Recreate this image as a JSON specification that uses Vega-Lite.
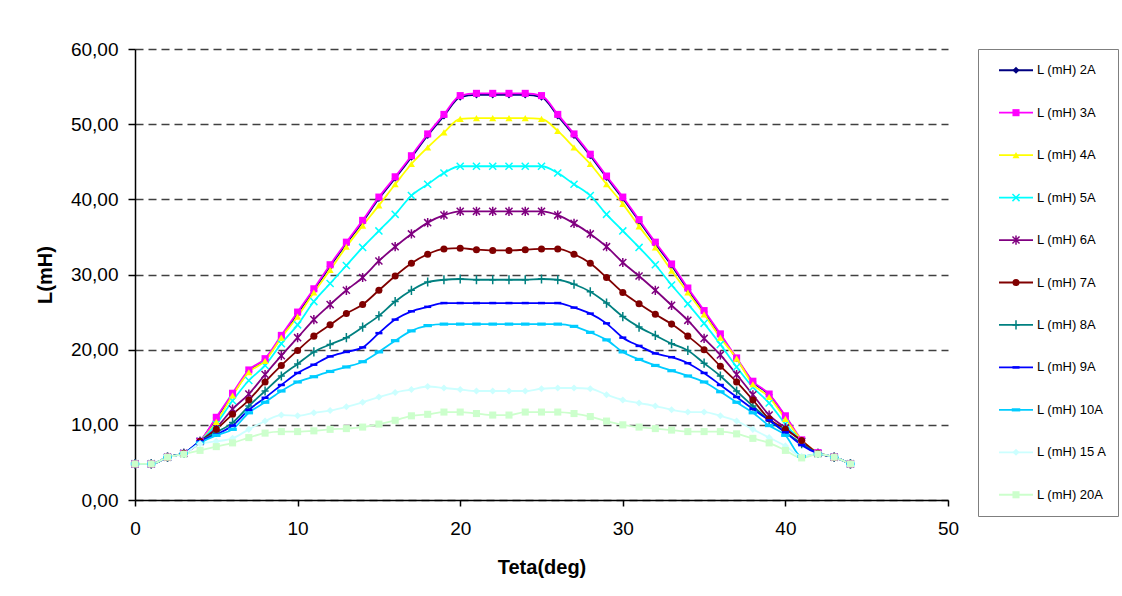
{
  "$schema": "https://vega.github.io/schema/vega-lite/v6.json",
  "background": "white",
  "padding": {"left": 35, "top": 40, "right": 4, "bottom": 4},
  "autosize": {"type": "pad"},
  "bounds": "flush",
  "spacing": 30,
  "config": {"font": "Liberation Sans"},
  "hconcat": [
    {
      "width": 813,
      "height": 451,
      "view": {"stroke": null},
      "data": {"values": [
{"series":"2A","teta":0,"L":4.8},{"series":"2A","teta":1,"L":4.8},{"series":"2A","teta":2,"L":5.7},{"series":"2A","teta":3,"L":6.2},{"series":"2A","teta":4,"L":7.8},{"series":"2A","teta":5,"L":10.9},{"series":"2A","teta":6,"L":14.0},{"series":"2A","teta":7,"L":17.1},{"series":"2A","teta":8,"L":18.7},{"series":"2A","teta":9,"L":21.7},{"series":"2A","teta":10,"L":24.8},{"series":"2A","teta":11,"L":27.9},{"series":"2A","teta":12,"L":31.1},{"series":"2A","teta":13,"L":34.1},{"series":"2A","teta":14,"L":37.0},{"series":"2A","teta":15,"L":40.1},{"series":"2A","teta":16,"L":42.8},{"series":"2A","teta":17,"L":45.6},{"series":"2A","teta":18,"L":48.5},{"series":"2A","teta":19,"L":51.1},{"series":"2A","teta":20,"L":53.6},{"series":"2A","teta":21,"L":53.9},{"series":"2A","teta":22,"L":53.9},{"series":"2A","teta":23,"L":53.9},{"series":"2A","teta":24,"L":53.9},{"series":"2A","teta":25,"L":53.6},{"series":"2A","teta":26,"L":51.1},{"series":"2A","teta":27,"L":48.5},{"series":"2A","teta":28,"L":45.8},{"series":"2A","teta":29,"L":42.9},{"series":"2A","teta":30,"L":40.1},{"series":"2A","teta":31,"L":37.1},{"series":"2A","teta":32,"L":34.1},{"series":"2A","teta":33,"L":31.2},{"series":"2A","teta":34,"L":28.0},{"series":"2A","teta":35,"L":25.0},{"series":"2A","teta":36,"L":21.9},{"series":"2A","teta":37,"L":18.8},{"series":"2A","teta":38,"L":15.7},{"series":"2A","teta":39,"L":14.0},{"series":"2A","teta":40,"L":11.1},{"series":"2A","teta":41,"L":7.9},{"series":"2A","teta":42,"L":6.3},{"series":"2A","teta":43,"L":5.7},{"series":"2A","teta":44,"L":4.8},
{"series":"3A","teta":0,"L":4.8},{"series":"3A","teta":1,"L":4.8},{"series":"3A","teta":2,"L":5.7},{"series":"3A","teta":3,"L":6.2},{"series":"3A","teta":4,"L":7.8},{"series":"3A","teta":5,"L":11.0},{"series":"3A","teta":6,"L":14.2},{"series":"3A","teta":7,"L":17.3},{"series":"3A","teta":8,"L":18.8},{"series":"3A","teta":9,"L":21.9},{"series":"3A","teta":10,"L":25.0},{"series":"3A","teta":11,"L":28.1},{"series":"3A","teta":12,"L":31.3},{"series":"3A","teta":13,"L":34.3},{"series":"3A","teta":14,"L":37.2},{"series":"3A","teta":15,"L":40.3},{"series":"3A","teta":16,"L":43.0},{"series":"3A","teta":17,"L":45.8},{"series":"3A","teta":18,"L":48.7},{"series":"3A","teta":19,"L":51.3},{"series":"3A","teta":20,"L":53.8},{"series":"3A","teta":21,"L":54.1},{"series":"3A","teta":22,"L":54.1},{"series":"3A","teta":23,"L":54.1},{"series":"3A","teta":24,"L":54.1},{"series":"3A","teta":25,"L":53.8},{"series":"3A","teta":26,"L":51.3},{"series":"3A","teta":27,"L":48.7},{"series":"3A","teta":28,"L":46.0},{"series":"3A","teta":29,"L":43.1},{"series":"3A","teta":30,"L":40.3},{"series":"3A","teta":31,"L":37.3},{"series":"3A","teta":32,"L":34.3},{"series":"3A","teta":33,"L":31.4},{"series":"3A","teta":34,"L":28.2},{"series":"3A","teta":35,"L":25.2},{"series":"3A","teta":36,"L":22.1},{"series":"3A","teta":37,"L":18.9},{"series":"3A","teta":38,"L":15.8},{"series":"3A","teta":39,"L":14.1},{"series":"3A","teta":40,"L":11.2},{"series":"3A","teta":41,"L":8.0},{"series":"3A","teta":42,"L":6.3},{"series":"3A","teta":43,"L":5.7},{"series":"3A","teta":44,"L":4.8},
{"series":"4A","teta":0,"L":4.8},{"series":"4A","teta":1,"L":4.8},{"series":"4A","teta":2,"L":5.7},{"series":"4A","teta":3,"L":6.2},{"series":"4A","teta":4,"L":7.8},{"series":"4A","teta":5,"L":10.4},{"series":"4A","teta":6,"L":13.9},{"series":"4A","teta":7,"L":17.0},{"series":"4A","teta":8,"L":18.5},{"series":"4A","teta":9,"L":21.6},{"series":"4A","teta":10,"L":24.4},{"series":"4A","teta":11,"L":27.6},{"series":"4A","teta":12,"L":30.6},{"series":"4A","teta":13,"L":33.7},{"series":"4A","teta":14,"L":36.5},{"series":"4A","teta":15,"L":39.2},{"series":"4A","teta":16,"L":42.0},{"series":"4A","teta":17,"L":44.7},{"series":"4A","teta":18,"L":46.9},{"series":"4A","teta":19,"L":48.9},{"series":"4A","teta":20,"L":50.7},{"series":"4A","teta":21,"L":50.8},{"series":"4A","teta":22,"L":50.8},{"series":"4A","teta":23,"L":50.8},{"series":"4A","teta":24,"L":50.8},{"series":"4A","teta":25,"L":50.7},{"series":"4A","teta":26,"L":49.1},{"series":"4A","teta":27,"L":46.9},{"series":"4A","teta":28,"L":44.7},{"series":"4A","teta":29,"L":42.0},{"series":"4A","teta":30,"L":39.4},{"series":"4A","teta":31,"L":36.4},{"series":"4A","teta":32,"L":33.6},{"series":"4A","teta":33,"L":30.5},{"series":"4A","teta":34,"L":27.6},{"series":"4A","teta":35,"L":24.7},{"series":"4A","teta":36,"L":21.6},{"series":"4A","teta":37,"L":18.8},{"series":"4A","teta":38,"L":15.4},{"series":"4A","teta":39,"L":13.7},{"series":"4A","teta":40,"L":10.8},{"series":"4A","teta":41,"L":8.0},{"series":"4A","teta":42,"L":6.3},{"series":"4A","teta":43,"L":5.7},{"series":"4A","teta":44,"L":4.8},
{"series":"5A","teta":0,"L":4.8},{"series":"5A","teta":1,"L":4.8},{"series":"5A","teta":2,"L":5.7},{"series":"5A","teta":3,"L":6.2},{"series":"5A","teta":4,"L":7.8},{"series":"5A","teta":5,"L":10.1},{"series":"5A","teta":6,"L":13.2},{"series":"5A","teta":7,"L":15.9},{"series":"5A","teta":8,"L":17.9},{"series":"5A","teta":9,"L":20.8},{"series":"5A","teta":10,"L":23.3},{"series":"5A","teta":11,"L":26.4},{"series":"5A","teta":12,"L":28.8},{"series":"5A","teta":13,"L":31.2},{"series":"5A","teta":14,"L":33.6},{"series":"5A","teta":15,"L":35.8},{"series":"5A","teta":16,"L":38.0},{"series":"5A","teta":17,"L":40.5},{"series":"5A","teta":18,"L":42.0},{"series":"5A","teta":19,"L":43.5},{"series":"5A","teta":20,"L":44.4},{"series":"5A","teta":21,"L":44.4},{"series":"5A","teta":22,"L":44.4},{"series":"5A","teta":23,"L":44.4},{"series":"5A","teta":24,"L":44.4},{"series":"5A","teta":25,"L":44.4},{"series":"5A","teta":26,"L":43.5},{"series":"5A","teta":27,"L":42.0},{"series":"5A","teta":28,"L":40.5},{"series":"5A","teta":29,"L":38.0},{"series":"5A","teta":30,"L":35.8},{"series":"5A","teta":31,"L":33.6},{"series":"5A","teta":32,"L":31.3},{"series":"5A","teta":33,"L":28.6},{"series":"5A","teta":34,"L":26.1},{"series":"5A","teta":35,"L":23.5},{"series":"5A","teta":36,"L":20.7},{"series":"5A","teta":37,"L":17.7},{"series":"5A","teta":38,"L":15.0},{"series":"5A","teta":39,"L":12.9},{"series":"5A","teta":40,"L":10.1},{"series":"5A","teta":41,"L":7.8},{"series":"5A","teta":42,"L":6.2},{"series":"5A","teta":43,"L":5.7},{"series":"5A","teta":44,"L":4.8},
{"series":"6A","teta":0,"L":4.8},{"series":"6A","teta":1,"L":4.8},{"series":"6A","teta":2,"L":5.7},{"series":"6A","teta":3,"L":6.2},{"series":"6A","teta":4,"L":7.8},{"series":"6A","teta":5,"L":9.6},{"series":"6A","teta":6,"L":12.1},{"series":"6A","teta":7,"L":14.1},{"series":"6A","teta":8,"L":16.7},{"series":"6A","teta":9,"L":19.2},{"series":"6A","teta":10,"L":21.6},{"series":"6A","teta":11,"L":24.0},{"series":"6A","teta":12,"L":26.0},{"series":"6A","teta":13,"L":27.9},{"series":"6A","teta":14,"L":29.6},{"series":"6A","teta":15,"L":31.8},{"series":"6A","teta":16,"L":33.7},{"series":"6A","teta":17,"L":35.4},{"series":"6A","teta":18,"L":36.9},{"series":"6A","teta":19,"L":37.9},{"series":"6A","teta":20,"L":38.4},{"series":"6A","teta":21,"L":38.4},{"series":"6A","teta":22,"L":38.4},{"series":"6A","teta":23,"L":38.4},{"series":"6A","teta":24,"L":38.4},{"series":"6A","teta":25,"L":38.4},{"series":"6A","teta":26,"L":37.9},{"series":"6A","teta":27,"L":36.8},{"series":"6A","teta":28,"L":35.4},{"series":"6A","teta":29,"L":33.7},{"series":"6A","teta":30,"L":31.6},{"series":"6A","teta":31,"L":29.8},{"series":"6A","teta":32,"L":27.9},{"series":"6A","teta":33,"L":25.9},{"series":"6A","teta":34,"L":23.9},{"series":"6A","teta":35,"L":21.5},{"series":"6A","teta":36,"L":19.3},{"series":"6A","teta":37,"L":16.7},{"series":"6A","teta":38,"L":14.0},{"series":"6A","teta":39,"L":11.3},{"series":"6A","teta":40,"L":9.6},{"series":"6A","teta":41,"L":7.8},{"series":"6A","teta":42,"L":6.2},{"series":"6A","teta":43,"L":5.7},{"series":"6A","teta":44,"L":4.8},
{"series":"7A","teta":0,"L":4.8},{"series":"7A","teta":1,"L":4.8},{"series":"7A","teta":2,"L":5.7},{"series":"7A","teta":3,"L":6.2},{"series":"7A","teta":4,"L":7.8},{"series":"7A","teta":5,"L":9.4},{"series":"7A","teta":6,"L":11.4},{"series":"7A","teta":7,"L":13.3},{"series":"7A","teta":8,"L":15.7},{"series":"7A","teta":9,"L":17.9},{"series":"7A","teta":10,"L":19.9},{"series":"7A","teta":11,"L":21.8},{"series":"7A","teta":12,"L":23.3},{"series":"7A","teta":13,"L":24.8},{"series":"7A","teta":14,"L":26.0},{"series":"7A","teta":15,"L":27.9},{"series":"7A","teta":16,"L":29.8},{"series":"7A","teta":17,"L":31.5},{"series":"7A","teta":18,"L":32.7},{"series":"7A","teta":19,"L":33.4},{"series":"7A","teta":20,"L":33.5},{"series":"7A","teta":21,"L":33.3},{"series":"7A","teta":22,"L":33.2},{"series":"7A","teta":23,"L":33.2},{"series":"7A","teta":24,"L":33.3},{"series":"7A","teta":25,"L":33.4},{"series":"7A","teta":26,"L":33.4},{"series":"7A","teta":27,"L":32.7},{"series":"7A","teta":28,"L":31.5},{"series":"7A","teta":29,"L":29.6},{"series":"7A","teta":30,"L":27.6},{"series":"7A","teta":31,"L":26.1},{"series":"7A","teta":32,"L":24.7},{"series":"7A","teta":33,"L":23.4},{"series":"7A","teta":34,"L":21.8},{"series":"7A","teta":35,"L":20.0},{"series":"7A","teta":36,"L":17.8},{"series":"7A","teta":37,"L":15.7},{"series":"7A","teta":38,"L":13.3},{"series":"7A","teta":39,"L":10.8},{"series":"7A","teta":40,"L":9.4},{"series":"7A","teta":41,"L":7.9},{"series":"7A","teta":42,"L":6.2},{"series":"7A","teta":43,"L":5.7},{"series":"7A","teta":44,"L":4.8},
{"series":"8A","teta":0,"L":4.8},{"series":"8A","teta":1,"L":4.8},{"series":"8A","teta":2,"L":5.7},{"series":"8A","teta":3,"L":6.2},{"series":"8A","teta":4,"L":7.8},{"series":"8A","teta":5,"L":9.0},{"series":"8A","teta":6,"L":10.3},{"series":"8A","teta":7,"L":12.5},{"series":"8A","teta":8,"L":14.5},{"series":"8A","teta":9,"L":16.5},{"series":"8A","teta":10,"L":18.1},{"series":"8A","teta":11,"L":19.7},{"series":"8A","teta":12,"L":20.7},{"series":"8A","teta":13,"L":21.6},{"series":"8A","teta":14,"L":23.0},{"series":"8A","teta":15,"L":24.5},{"series":"8A","teta":16,"L":26.4},{"series":"8A","teta":17,"L":27.9},{"series":"8A","teta":18,"L":29.0},{"series":"8A","teta":19,"L":29.3},{"series":"8A","teta":20,"L":29.4},{"series":"8A","teta":21,"L":29.3},{"series":"8A","teta":22,"L":29.3},{"series":"8A","teta":23,"L":29.3},{"series":"8A","teta":24,"L":29.3},{"series":"8A","teta":25,"L":29.4},{"series":"8A","teta":26,"L":29.3},{"series":"8A","teta":27,"L":28.7},{"series":"8A","teta":28,"L":27.7},{"series":"8A","teta":29,"L":26.2},{"series":"8A","teta":30,"L":24.4},{"series":"8A","teta":31,"L":23.0},{"series":"8A","teta":32,"L":21.9},{"series":"8A","teta":33,"L":20.8},{"series":"8A","teta":34,"L":19.9},{"series":"8A","teta":35,"L":18.2},{"series":"8A","teta":36,"L":16.5},{"series":"8A","teta":37,"L":14.5},{"series":"8A","teta":38,"L":12.5},{"series":"8A","teta":39,"L":10.6},{"series":"8A","teta":40,"L":9.0},{"series":"8A","teta":41,"L":7.5},{"series":"8A","teta":42,"L":6.2},{"series":"8A","teta":43,"L":5.7},{"series":"8A","teta":44,"L":4.8},
{"series":"9A","teta":0,"L":4.8},{"series":"9A","teta":1,"L":4.8},{"series":"9A","teta":2,"L":5.7},{"series":"9A","teta":3,"L":6.2},{"series":"9A","teta":4,"L":7.8},{"series":"9A","teta":5,"L":8.7},{"series":"9A","teta":6,"L":9.9},{"series":"9A","teta":7,"L":12.0},{"series":"9A","teta":8,"L":13.6},{"series":"9A","teta":9,"L":15.3},{"series":"9A","teta":10,"L":16.9},{"series":"9A","teta":11,"L":18.0},{"series":"9A","teta":12,"L":19.1},{"series":"9A","teta":13,"L":19.7},{"series":"9A","teta":14,"L":20.3},{"series":"9A","teta":15,"L":22.2},{"series":"9A","teta":16,"L":24.0},{"series":"9A","teta":17,"L":25.1},{"series":"9A","teta":18,"L":25.7},{"series":"9A","teta":19,"L":26.2},{"series":"9A","teta":20,"L":26.2},{"series":"9A","teta":21,"L":26.2},{"series":"9A","teta":22,"L":26.2},{"series":"9A","teta":23,"L":26.2},{"series":"9A","teta":24,"L":26.2},{"series":"9A","teta":25,"L":26.2},{"series":"9A","teta":26,"L":26.2},{"series":"9A","teta":27,"L":25.6},{"series":"9A","teta":28,"L":24.8},{"series":"9A","teta":29,"L":23.5},{"series":"9A","teta":30,"L":21.6},{"series":"9A","teta":31,"L":20.5},{"series":"9A","teta":32,"L":19.5},{"series":"9A","teta":33,"L":19.0},{"series":"9A","teta":34,"L":18.2},{"series":"9A","teta":35,"L":16.9},{"series":"9A","teta":36,"L":15.3},{"series":"9A","teta":37,"L":13.7},{"series":"9A","teta":38,"L":12.1},{"series":"9A","teta":39,"L":10.6},{"series":"9A","teta":40,"L":9.0},{"series":"9A","teta":41,"L":7.3},{"series":"9A","teta":42,"L":6.2},{"series":"9A","teta":43,"L":5.7},{"series":"9A","teta":44,"L":4.8},
{"series":"10A","teta":0,"L":4.8},{"series":"10A","teta":1,"L":4.8},{"series":"10A","teta":2,"L":5.7},{"series":"10A","teta":3,"L":6.2},{"series":"10A","teta":4,"L":7.6},{"series":"10A","teta":5,"L":8.6},{"series":"10A","teta":6,"L":9.4},{"series":"10A","teta":7,"L":11.6},{"series":"10A","teta":8,"L":13.0},{"series":"10A","teta":9,"L":14.5},{"series":"10A","teta":10,"L":15.7},{"series":"10A","teta":11,"L":16.4},{"series":"10A","teta":12,"L":17.1},{"series":"10A","teta":13,"L":17.7},{"series":"10A","teta":14,"L":18.4},{"series":"10A","teta":15,"L":19.7},{"series":"10A","teta":16,"L":21.2},{"series":"10A","teta":17,"L":22.5},{"series":"10A","teta":18,"L":23.2},{"series":"10A","teta":19,"L":23.4},{"series":"10A","teta":20,"L":23.4},{"series":"10A","teta":21,"L":23.4},{"series":"10A","teta":22,"L":23.4},{"series":"10A","teta":23,"L":23.4},{"series":"10A","teta":24,"L":23.4},{"series":"10A","teta":25,"L":23.4},{"series":"10A","teta":26,"L":23.4},{"series":"10A","teta":27,"L":23.1},{"series":"10A","teta":28,"L":22.3},{"series":"10A","teta":29,"L":21.3},{"series":"10A","teta":30,"L":19.7},{"series":"10A","teta":31,"L":18.7},{"series":"10A","teta":32,"L":17.9},{"series":"10A","teta":33,"L":17.2},{"series":"10A","teta":34,"L":16.5},{"series":"10A","teta":35,"L":15.7},{"series":"10A","teta":36,"L":14.4},{"series":"10A","teta":37,"L":13.0},{"series":"10A","teta":38,"L":11.6},{"series":"10A","teta":39,"L":9.9},{"series":"10A","teta":40,"L":8.6},{"series":"10A","teta":41,"L":5.8},{"series":"10A","teta":42,"L":6.1},{"series":"10A","teta":43,"L":5.7},{"series":"10A","teta":44,"L":4.8},
{"series":"15A","teta":0,"L":4.8},{"series":"15A","teta":1,"L":4.8},{"series":"15A","teta":2,"L":5.7},{"series":"15A","teta":3,"L":6.1},{"series":"15A","teta":4,"L":7.5},{"series":"15A","teta":5,"L":7.8},{"series":"15A","teta":6,"L":8.2},{"series":"15A","teta":7,"L":9.4},{"series":"15A","teta":8,"L":10.5},{"series":"15A","teta":9,"L":11.3},{"series":"15A","teta":10,"L":11.2},{"series":"15A","teta":11,"L":11.6},{"series":"15A","teta":12,"L":11.9},{"series":"15A","teta":13,"L":12.4},{"series":"15A","teta":14,"L":13.0},{"series":"15A","teta":15,"L":13.7},{"series":"15A","teta":16,"L":14.3},{"series":"15A","teta":17,"L":14.7},{"series":"15A","teta":18,"L":15.1},{"series":"15A","teta":19,"L":14.9},{"series":"15A","teta":20,"L":14.7},{"series":"15A","teta":21,"L":14.5},{"series":"15A","teta":22,"L":14.5},{"series":"15A","teta":23,"L":14.5},{"series":"15A","teta":24,"L":14.5},{"series":"15A","teta":25,"L":14.8},{"series":"15A","teta":26,"L":14.9},{"series":"15A","teta":27,"L":14.9},{"series":"15A","teta":28,"L":14.8},{"series":"15A","teta":29,"L":14.0},{"series":"15A","teta":30,"L":13.3},{"series":"15A","teta":31,"L":12.9},{"series":"15A","teta":32,"L":12.5},{"series":"15A","teta":33,"L":12.0},{"series":"15A","teta":34,"L":11.7},{"series":"15A","teta":35,"L":11.7},{"series":"15A","teta":36,"L":11.2},{"series":"15A","teta":37,"L":10.5},{"series":"15A","teta":38,"L":9.4},{"series":"15A","teta":39,"L":8.3},{"series":"15A","teta":40,"L":7.2},{"series":"15A","teta":41,"L":5.8},{"series":"15A","teta":42,"L":6.1},{"series":"15A","teta":43,"L":5.7},{"series":"15A","teta":44,"L":4.8},
{"series":"20A","teta":0,"L":4.8},{"series":"20A","teta":1,"L":4.8},{"series":"20A","teta":2,"L":5.7},{"series":"20A","teta":3,"L":6.1},{"series":"20A","teta":4,"L":6.6},{"series":"20A","teta":5,"L":7.1},{"series":"20A","teta":6,"L":7.6},{"series":"20A","teta":7,"L":8.3},{"series":"20A","teta":8,"L":8.9},{"series":"20A","teta":9,"L":9.1},{"series":"20A","teta":10,"L":9.1},{"series":"20A","teta":11,"L":9.2},{"series":"20A","teta":12,"L":9.4},{"series":"20A","teta":13,"L":9.5},{"series":"20A","teta":14,"L":9.7},{"series":"20A","teta":15,"L":10.1},{"series":"20A","teta":16,"L":10.6},{"series":"20A","teta":17,"L":11.2},{"series":"20A","teta":18,"L":11.4},{"series":"20A","teta":19,"L":11.7},{"series":"20A","teta":20,"L":11.7},{"series":"20A","teta":21,"L":11.5},{"series":"20A","teta":22,"L":11.3},{"series":"20A","teta":23,"L":11.3},{"series":"20A","teta":24,"L":11.7},{"series":"20A","teta":25,"L":11.7},{"series":"20A","teta":26,"L":11.7},{"series":"20A","teta":27,"L":11.5},{"series":"20A","teta":28,"L":11.1},{"series":"20A","teta":29,"L":10.5},{"series":"20A","teta":30,"L":10.0},{"series":"20A","teta":31,"L":9.7},{"series":"20A","teta":32,"L":9.5},{"series":"20A","teta":33,"L":9.3},{"series":"20A","teta":34,"L":9.1},{"series":"20A","teta":35,"L":9.1},{"series":"20A","teta":36,"L":9.1},{"series":"20A","teta":37,"L":8.8},{"series":"20A","teta":38,"L":8.2},{"series":"20A","teta":39,"L":7.6},{"series":"20A","teta":40,"L":6.6},{"series":"20A","teta":41,"L":5.6},{"series":"20A","teta":42,"L":6.1},{"series":"20A","teta":43,"L":5.7},{"series":"20A","teta":44,"L":4.8}
      ]},
      "encoding": {
        "x": {
          "field": "teta", "type": "quantitative",
          "scale": {"domain": [0, 50], "nice": false},
          "axis": {
            "values": [0, 10, 20, 30, 40, 50], "grid": false,
            "title": "Teta(deg)", "titleFontSize": 20, "titleFontWeight": "bold", "titleColor": "black",
            "titlePadding": 19, "labelFontSize": 19, "labelColor": "black", "labelFlush": false,
            "domainColor": "black", "domainWidth": 1.5, "tickColor": "black", "tickWidth": 1.5, "tickSize": 6, "labelPadding": 13
          }
        },
        "y": {
          "field": "L", "type": "quantitative",
          "scale": {"domain": [0, 60], "nice": false},
          "axis": {
            "values": [0, 10, 20, 30, 40, 50, 60], "grid": true,
            "gridDash": [8, 5], "gridColor": "#404040", "gridWidth": 1.5,
            "labelExpr": "replace(format(datum.value, '.2f'), '.', ',')",
            "labelFontSize": 19, "labelColor": "black", "labelPadding": 10,
            "title": "L(mH)", "titleFontSize": 20, "titleFontWeight": "bold", "titleColor": "black",
            "titleX": -90, "titleY": 225.5, "titleAngle": 270, "titleAlign": "center", "titleBaseline": "middle",
            "domainColor": "black", "domainWidth": 1.5, "tickColor": "black", "tickWidth": 1.5, "tickSize": 7
          }
        },
        "color": {
          "field": "series", "type": "nominal",
          "scale": {
            "domain": ["2A", "3A", "4A", "5A", "6A", "7A", "8A", "9A", "10A", "15A", "20A"],
            "range": ["#000080", "#FF00FF", "#FFFF00", "#00FFFF", "#800080", "#800000", "#008080", "#0000FF", "#00CCFF", "#CCFFFF", "#CCFFCC"]
          },
          "legend": null
        }
      },
      "layer": [
        {"mark": {"type": "line", "strokeWidth": 1.8, "interpolate": "monotone"}},
        {
          "transform": [{"filter": {"field": "series", "oneOf": ["5A", "6A", "8A"]}}],
          "mark": {"type": "point", "filled": false, "opacity": 1, "size": 50, "strokeWidth": 1.5},
          "encoding": {
            "shape": {
              "field": "series", "type": "nominal",
              "scale": {
                "domain": ["2A", "3A", "4A", "5A", "6A", "7A", "8A", "9A", "10A", "15A", "20A"],
                "range": ["diamond", "square", "triangle-up", "M-1,-1L1,1M-1,1L1,-1", "M-1,-1L1,1M-1,1L1,-1M0,-1.3V1.3", "circle", "M-1,0H1M0,-1.3V1.3", "M-1,-0.35H1V0.35H-1Z", "M-1.2,-0.45H1.2V0.45H-1.2Z", "diamond", "square"]
              },
              "legend": null
            }
          }
        },
        {
          "transform": [{"filter": {"not": {"field": "series", "oneOf": ["5A", "6A", "8A"]}}}],
          "mark": {"type": "point", "filled": true, "opacity": 1, "size": 50},
          "encoding": {
            "shape": {
              "field": "series", "type": "nominal",
              "scale": {
                "domain": ["2A", "3A", "4A", "5A", "6A", "7A", "8A", "9A", "10A", "15A", "20A"],
                "range": ["diamond", "square", "triangle-up", "M-1,-1L1,1M-1,1L1,-1", "M-1,-1L1,1M-1,1L1,-1M0,-1.3V1.3", "circle", "M-1,0H1M0,-1.3V1.3", "M-1,-0.35H1V0.35H-1Z", "M-1.2,-0.45H1.2V0.45H-1.2Z", "diamond", "square"]
              },
              "legend": null
            }
          }
        }
      ]
    },
    {
      "width": 140,
      "height": 467,
      "view": {"stroke": "#7f7f7f", "strokeWidth": 1},
      "data": {"values": [
        {"series": "2A", "label": "L (mH) 2A"},
        {"series": "3A", "label": "L (mH) 3A"},
        {"series": "4A", "label": "L (mH) 4A"},
        {"series": "5A", "label": "L (mH) 5A"},
        {"series": "6A", "label": "L (mH) 6A"},
        {"series": "7A", "label": "L (mH) 7A"},
        {"series": "8A", "label": "L (mH) 8A"},
        {"series": "9A", "label": "L (mH) 9A"},
        {"series": "10A", "label": "L (mH) 10A"},
        {"series": "15A", "label": "L (mH) 15 A"},
        {"series": "20A", "label": "L (mH) 20A"}
      ]},
      "encoding": {
        "y": {
          "field": "series", "type": "nominal",
          "scale": {"type": "point", "padding": 0.5, "domain": ["2A", "3A", "4A", "5A", "6A", "7A", "8A", "9A", "10A", "15A", "20A"]},
          "axis": null
        },
        "color": {
          "field": "series", "type": "nominal",
          "scale": {
            "domain": ["2A", "3A", "4A", "5A", "6A", "7A", "8A", "9A", "10A", "15A", "20A"],
            "range": ["#000080", "#FF00FF", "#FFFF00", "#00FFFF", "#800080", "#800000", "#008080", "#0000FF", "#00CCFF", "#CCFFFF", "#CCFFCC"]
          },
          "legend": null
        }
      },
      "layer": [
        {
          "mark": {"type": "rule", "strokeWidth": 1.8},
          "encoding": {
            "x": {"datum": 21, "type": "quantitative", "scale": {"domain": [0, 140], "nice": false}, "axis": null},
            "x2": {"datum": 55}
          }
        },
        {
          "transform": [{"filter": {"not": {"field": "series", "oneOf": ["5A", "6A", "8A"]}}}],
          "mark": {"type": "point", "filled": true, "opacity": 1, "size": 50},
          "encoding": {
            "x": {"datum": 38, "type": "quantitative"},
            "shape": {
              "field": "series", "type": "nominal",
              "scale": {
                "domain": ["2A", "3A", "4A", "5A", "6A", "7A", "8A", "9A", "10A", "15A", "20A"],
                "range": ["diamond", "square", "triangle-up", "M-1,-1L1,1M-1,1L1,-1", "M-1,-1L1,1M-1,1L1,-1M0,-1.3V1.3", "circle", "M-1,0H1M0,-1.3V1.3", "M-1,-0.35H1V0.35H-1Z", "M-1.2,-0.45H1.2V0.45H-1.2Z", "diamond", "square"]
              },
              "legend": null
            }
          }
        },
        {
          "transform": [{"filter": {"field": "series", "oneOf": ["5A", "6A", "8A"]}}],
          "mark": {"type": "point", "filled": false, "opacity": 1, "size": 50, "strokeWidth": 1.5},
          "encoding": {
            "x": {"datum": 38, "type": "quantitative"},
            "shape": {
              "field": "series", "type": "nominal",
              "scale": {
                "domain": ["2A", "3A", "4A", "5A", "6A", "7A", "8A", "9A", "10A", "15A", "20A"],
                "range": ["diamond", "square", "triangle-up", "M-1,-1L1,1M-1,1L1,-1", "M-1,-1L1,1M-1,1L1,-1M0,-1.3V1.3", "circle", "M-1,0H1M0,-1.3V1.3", "M-1,-0.35H1V0.35H-1Z", "M-1.2,-0.45H1.2V0.45H-1.2Z", "diamond", "square"]
              },
              "legend": null
            }
          }
        },
        {
          "mark": {"type": "text", "align": "left", "baseline": "middle", "fontSize": 13, "font": "Liberation Sans"},
          "encoding": {
            "x": {"datum": 59, "type": "quantitative"},
            "text": {"field": "label"},
            "color": {"value": "black"}
          }
        }
      ]
    }
  ]
}
